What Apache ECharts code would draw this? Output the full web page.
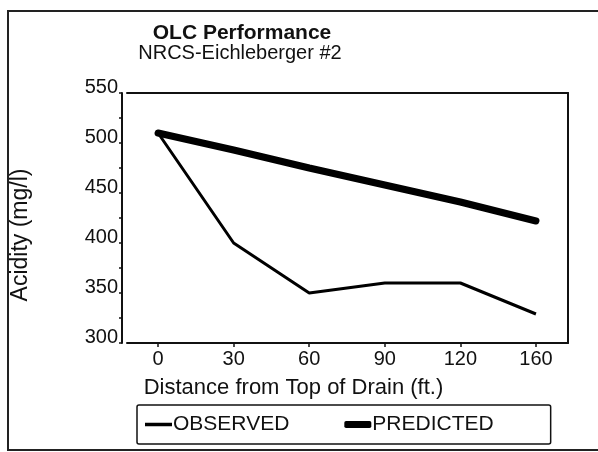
<!DOCTYPE html>
<html>
<head>
<meta charset="utf-8">
<script src="https://cdn.jsdelivr.net/npm/echarts@6/dist/echarts.min.js"></script>
<style>html,body{margin:0;padding:0;background:#fff}#c{width:598px;height:452px}</style>
</head>
<body>
<div id="c"></div>
<script>
var categories = ['0', '30', '60', '90', '120', '160'];
var observed = [510, 400, 350, 360, 360, 329];
var predicted = [510, 493, 475, 458, 441, 422];
var yTicks = [300, 350, 400, 450, 500, 550];

var FONT = '"Liberation Sans", Arial, sans-serif';
var chart = echarts.init(document.getElementById('c'));
function pts(arr) { return arr.map(function (v, i) { return [i, v]; }); }
var idx = categories.map(function (c, i) { return i; });
chart.setOption({
  animation: false,
  backgroundColor: '#fff',
  title: [
    { text: 'OLC Performance', left: 237, top: 18, textAlign: 'center',
      textStyle: { fontFamily: FONT, fontSize: 21, fontWeight: 'bold', color: '#111' } },
    { text: 'NRCS-Eichleberger #2', left: 235, top: 38, textAlign: 'center',
      textStyle: { fontFamily: FONT, fontSize: 20, fontWeight: 'normal', color: '#111' } }
  ],
  graphic: [
    { type: 'rect', shape: { x: 8, y: 11, width: 600, height: 439 },
      style: { fill: 'none', stroke: '#222', lineWidth: 2 }, silent: true }
  ],
  grid: { left: 127, right: 30, top: 93, bottom: 109 },
  legend: {
    left: 137, top: 405,
    padding: [9, 57, 9, 8],
    itemGap: 55, itemWidth: 27, itemHeight: 7,
    borderColor: '#111', borderWidth: 1.5, borderRadius: 2,
    textStyle: { fontFamily: FONT, fontSize: 21, color: '#111', padding: [0, 0, 0, -4] },
    data: [
      { name: 'OBSERVED', icon: 'path://M0,0 L0.01,0 L0.01,0.01 Z M0,1.7 L27,1.7 L27,5.3 L0,5.3 Z M26.99,7 L27,7 L27,6.99 Z' },
      { name: 'PREDICTED', icon: 'roundRect' }
    ]
  },
  xAxis: [
    {
      type: 'value', min: -0.411, max: 5.424, position: 'bottom',
      name: 'Distance from Top of Drain (ft.)', nameLocation: 'middle', nameGap: 34,
      nameTextStyle: { fontFamily: FONT, fontSize: 22, color: '#111', padding: [0, 108, 0, 0] },
      axisLine: { show: true, onZero: false, lineStyle: { color: '#111', width: 2 } },
      axisTick: { show: true, customValues: idx, length: 4, inside: false, lineStyle: { color: '#111', width: 1.5 } },
      axisLabel: { customValues: idx, fontFamily: FONT, fontSize: 20, color: '#111', margin: 6,
        formatter: function (v) { return categories[Math.round(v)]; } },
      splitLine: { show: false }
    },
    {
      type: 'value', min: -0.411, max: 5.424, position: 'top',
      axisLine: { show: true, onZero: false, lineStyle: { color: '#111', width: 2 } },
      axisTick: { show: false }, axisLabel: { show: false }, splitLine: { show: false }
    }
  ],
  yAxis: [
    {
      type: 'value', min: 300, max: 550, interval: 50, offset: 5, position: 'left',
      name: 'Acidity (mg/l)', nameLocation: 'middle', nameGap: 90, nameRotate: 90,
      nameTextStyle: { fontFamily: FONT, fontSize: 23, color: '#111', padding: [0, 34, 0, 0] },
      axisLine: { show: true, onZero: false, lineStyle: { color: '#111', width: 2 } },
      axisTick: { show: true, length: 3, lineStyle: { color: '#111', width: 1.5 } },
      minorTick: { show: true, splitNumber: 2, length: 3, lineStyle: { color: '#111', width: 1.5 } },
      axisLabel: { fontFamily: FONT, fontSize: 20, color: '#111', margin: 4,
        verticalAlign: 'bottom', lineHeight: 12 },
      splitLine: { show: false }
    },
    {
      type: 'value', min: 300, max: 550, interval: 50, position: 'right',
      axisLine: { show: true, onZero: false, lineStyle: { color: '#111', width: 2 } },
      axisTick: { show: false }, axisLabel: { show: false }, splitLine: { show: false }
    }
  ],
  series: [
    { name: 'OBSERVED', type: 'line', data: pts(observed), symbol: 'none',
      lineStyle: { color: '#000', width: 3 }, itemStyle: { color: '#000' } },
    { name: 'PREDICTED', type: 'line', data: pts(predicted), symbol: 'none',
      lineStyle: { color: '#000', width: 7, cap: 'round' }, itemStyle: { color: '#000' } }
  ]
});
</script>
</body>
</html>
